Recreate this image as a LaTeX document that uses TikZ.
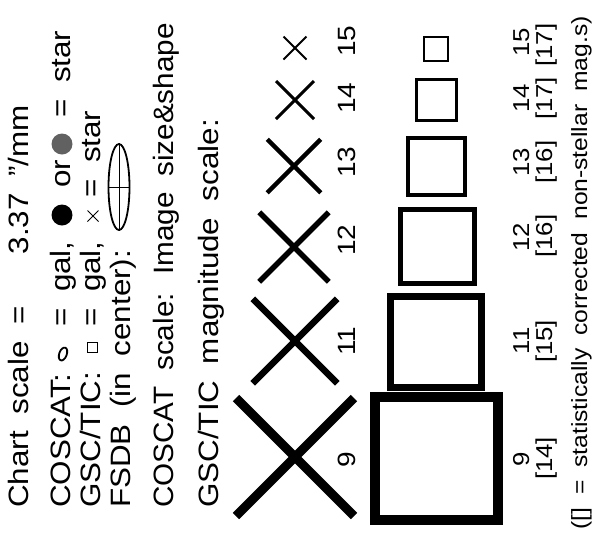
\documentclass[tikz,border=0pt]{standalone}
\usepackage{fontspec}
\setmainfont{Liberation Sans}[FakeStretch=1.12,WordSpace=1.9]
\usetikzlibrary{shapes.geometric,shapes.misc}
\definecolor{stargray}{gray}{0.38}

\begin{document}
\begin{tikzpicture}[
  x=1pt, y=-1pt,
  txt/.style={rotate=90, anchor=base west, inner sep=0pt,
              font=\fontsize{28}{30}\selectfont},
  num/.style={rotate=90, anchor=base, inner sep=0pt,
              font=\fontsize{25}{27}\selectfont},
  sqnum/.style={rotate=90, anchor=base, inner sep=0pt,
                font=\fontsize{23}{25}\selectfont},
  xmark/.style={cross out, draw, inner sep=0pt},
  sqmark/.style={rectangle, draw, inner sep=0pt},
  dot/.style={circle, minimum size=21pt, inner sep=0pt}
]
  \useasboundingbox (0,0) rectangle (595,539);

  \node[txt] (chart) at (28,508) {Chart scale =};
  \node[txt, anchor=base east] (chartval) at (28,105) {3.37 "/mm};

  \node[txt] (coscat) at (70,508) {COSCAT:};
  \node[ellipse, draw, line width=1.8pt, minimum width=7.5pt, minimum height=13.5pt,
        inner sep=0pt, rotate=-20] (cosgal) at (63,354) {};
  \node[txt] (cosgaltxt) at (70,327) {= gal,};
  \node[dot, fill=black] (cosstar) at (62,215) {};
  \node[txt, anchor=base] (cosor) at (70,174) {or};
  \node[dot, fill=stargray] (cosstartwo) at (62,144) {};
  \node[txt] (cosstartxt) at (70,118) {= star};

  \node[txt] (gsc) at (100,508) {GSC/TIC:};
  \node[sqmark, minimum size=10pt, line width=0.9pt] (gscgal) at (92,347) {};
  \node[txt] (gscgaltxt) at (100,327) {= gal,};
  \node[xmark, minimum size=10pt, line width=1pt] (gscstar) at (93,216) {};
  \node[txt] (gscstartxt) at (100,198) {= star};

  \node[txt] (fsdbtxt) at (130,508) {FSDB (in center):};
  \node[ellipse, draw, line width=1.8pt, minimum width=21pt, minimum height=86pt,
        inner sep=0pt] (fsdb) at (119,187) {};
  \draw[line width=0.8pt] (fsdb.north) -- (fsdb.south) (fsdb.west) -- (fsdb.east);

  \node[txt, font=\fontsize{28}{30}\selectfont\addfontfeature{FakeStretch=1.06}]
    (cosscale) at (173,508) {COSCAT scale: Image size\&shape};
  \node[txt] (gscscale) at (218,508) {GSC/TIC magnitude scale:};

  \node[xmark, minimum size=109pt, line width=9pt] (x9) at (295,457) {};
  \node[xmark, minimum size=78pt, line width=6.5pt] (x11) at (295,341) {};
  \node[xmark, minimum size=64pt, line width=5.5pt] (x12) at (294,247) {};
  \node[xmark, minimum size=49pt, line width=4.5pt] (x13) at (294,166) {};
  \node[xmark, minimum size=35pt, line width=3pt] (x14) at (295,100) {};
  \node[xmark, minimum size=21pt, line width=2pt] (x15) at (295,48) {};

  \node[num] (nx9) at (355,460) {9};
  \node[num] (nx11) at (355,341) {11};
  \node[num] (nx12) at (355,240) {12};
  \node[num] (nx13) at (355,162) {13};
  \node[num] (nx14) at (355,98) {14};
  \node[num] (nx15) at (355,41) {15};

  \node[sqmark, minimum size=123pt, line width=10pt] (s9) at (436.5,458.5) {};
  \node[sqmark, minimum size=91pt, line width=7pt] (s11) at (436,341.5) {};
  \node[sqmark, minimum size=74pt, line width=5pt] (s12) at (437,246) {};
  \node[sqmark, minimum size=57pt, line width=4pt] (s13) at (436.5,166) {};
  \node[sqmark, minimum size=40.5pt, line width=3pt] (s14) at (436.5,100) {};
  \node[sqmark, minimum size=24pt, line width=2pt] (s15) at (436,49) {};

  \node[sqnum] (ns9) at (529,459.5) {9};
  \node[sqnum] (ns11) at (529,341) {11};
  \node[sqnum] (ns12) at (529,237) {12};
  \node[sqnum] (ns13) at (529,162) {13};
  \node[sqnum] (ns14) at (529,98.5) {14};
  \node[sqnum] (ns15) at (529,42) {15};

  \node[sqnum] (cs9) at (552,458.5) {[14]};
  \node[sqnum] (cs11) at (552,341.5) {[15]};
  \node[sqnum] (cs12) at (552,236) {[16]};
  \node[sqnum] (cs13) at (552,162) {[16]};
  \node[sqnum] (cs14) at (552,98.5) {[17]};
  \node[sqnum] (cs15) at (552,45) {[17]};

  \node[txt, font=\fontsize{22}{24}\selectfont] (note) at (587,530)
    {([] = statistically corrected non-stellar mag.s)};
\end{tikzpicture}
\end{document}
